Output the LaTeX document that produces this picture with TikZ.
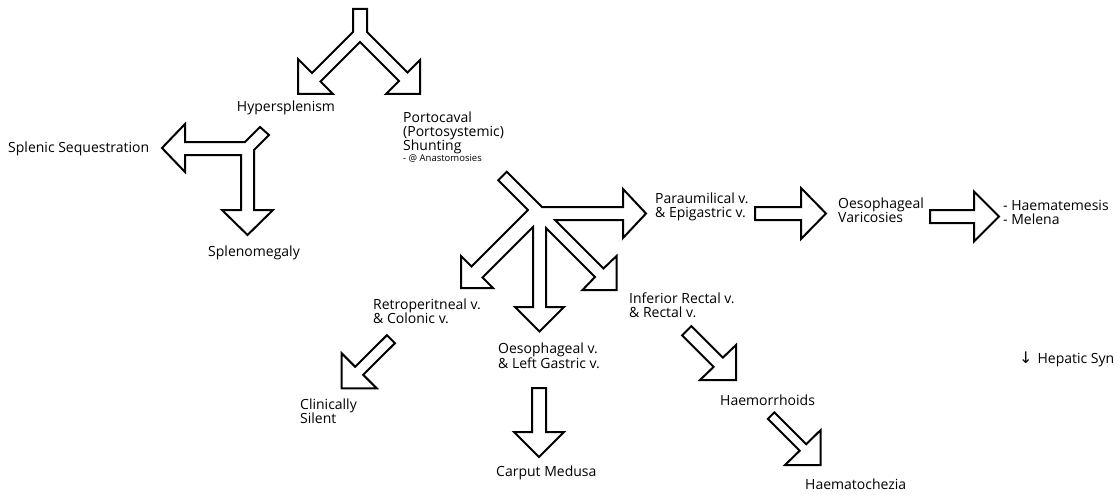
\documentclass[tikz,border=0pt]{standalone}
\usepackage{fontspec}
\setmainfont{Open Sans}
\newfontfamily\arrowfont{DejaVu Sans}
\begin{document}
\begin{tikzpicture}[x=1pt,y=-1pt,
  blk/.style={draw=black,line width=2pt,fill=white,line join=miter,miter limit=10},
  lbl/.style={inner sep=0pt,anchor=west,align=left,font=\fontsize{14}{14}\selectfont}]
\useasboundingbox (0,0) rectangle (1120,495);
\fill[white] (0,0) rectangle (1120,495);

% top Y block arrow
\draw[blk] (353,9) -- (367,9) -- (367,32) -- (407.5,72.5) -- (420,60) -- (420,94) -- (386,94) -- (399,81)
  -- (360,42) -- (320.5,81.5) -- (333,94) -- (298,94) -- (298,59) -- (312,73) -- (353,32) -- cycle;

% splenic T block arrow
\draw[blk] (162,148) -- (185,124) -- (185,142) -- (245,142) -- (260,127) -- (269,135) -- (254,150)
  -- (254,210) -- (273,210) -- (247.5,235) -- (222,210) -- (241,210) -- (241,155) -- (185,155) -- (185,172) -- cycle;

% central star block arrow
\draw[blk] (498.25,180.25) -- (506.75,171.75) -- (542,207) -- (623,207) -- (623,189) -- (646,213.5)
  -- (623,238) -- (623,220) -- (555,220) -- (603.5,268.5) -- (616.5,256) -- (616.5,290) -- (582.5,290)
  -- (595,277) -- (546,228) -- (546,307) -- (564,307) -- (539.5,331.5) -- (515,307) -- (533,307)
  -- (533,227) -- (482.5,277.5) -- (493,288) -- (461,288) -- (461,256) -- (471.5,266.5) -- (528,210) -- cycle;

% right arrows
\draw[blk] (755,207) -- (801,207) -- (801,188) -- (826,213.5) -- (801,239) -- (801,220) -- (755,220) -- cycle;
\draw[blk] (930,210) -- (974,210) -- (974,191.5) -- (999,216.5) -- (974,241.5) -- (974,223) -- (930,223) -- cycle;

% clinically silent arrow
\draw[blk] (386.9,335.2) -- (394.9,343.2) -- (363.2,374.8) -- (376.7,388.3) -- (341.7,388.3) -- (341.7,353.3) -- (355.2,366.8) -- cycle;

% carput medusa arrow
\draw[blk] (532,388) -- (546,388) -- (546,432) -- (564,432) -- (539,457) -- (514,432) -- (532,432) -- cycle;

% haemorrhoids arrow
\draw[blk] (682.1,335.4) -- (691.4,326.1) -- (722.9,357.6) -- (736,345) -- (736,380) -- (700,380) -- (713.6,366.9) -- cycle;

% haematochezia arrow
\draw[blk] (767.85,418.85) -- (774.35,412.35) -- (806.2,444.2) -- (820.7,430) -- (820.7,465) -- (785,465) -- (799.7,450.7) -- cycle;

% labels
\node[lbl,anchor=center] (hyp) at (286,108) {Hypersplenism};
\node[lbl] (porto) at (403,137) {Portocaval\\(Portosystemic)\\Shunting\\[-3pt]{\fontsize{9.5}{10}\selectfont - @ Anastomosies}};
\node[lbl] (splseq) at (8,149) {Splenic Sequestration};
\node[lbl] (splmeg) at (208,253) {Splenomegaly};
\node[lbl] (para) at (655,206.5) {Paraumilical v.\\\& Epigastric v.};
\node[lbl] (varic) at (838,210) {Oesophageal\\Varicosies};
\node[lbl] (haemat) at (1003,212) {- Haematemesis\\- Melena};
\node[lbl] (retro) at (373,311) {Retroperitneal v.\\\& Colonic v.};
\node[lbl] (oesov) at (498,356) {Oesophageal v.\\\& Left Gastric v.};
\node[lbl] (infrec) at (629,305) {Inferior Rectal v.\\\& Rectal v.};
\node[lbl] (clin) at (300,411) {Clinically\\Silent};
\node[lbl] (carput) at (496,473) {Carput Medusa};
\node[lbl] (haemor) at (720,400) {Haemorrhoids};
\node[lbl] (haemch) at (805,484) {Haematochezia};
\node[lbl] (hepatic) at (1019,359) {{\arrowfont\fontsize{16}{16}\selectfont ↓}\hspace{5pt}Hepatic Syn};
\end{tikzpicture}
\end{document}
